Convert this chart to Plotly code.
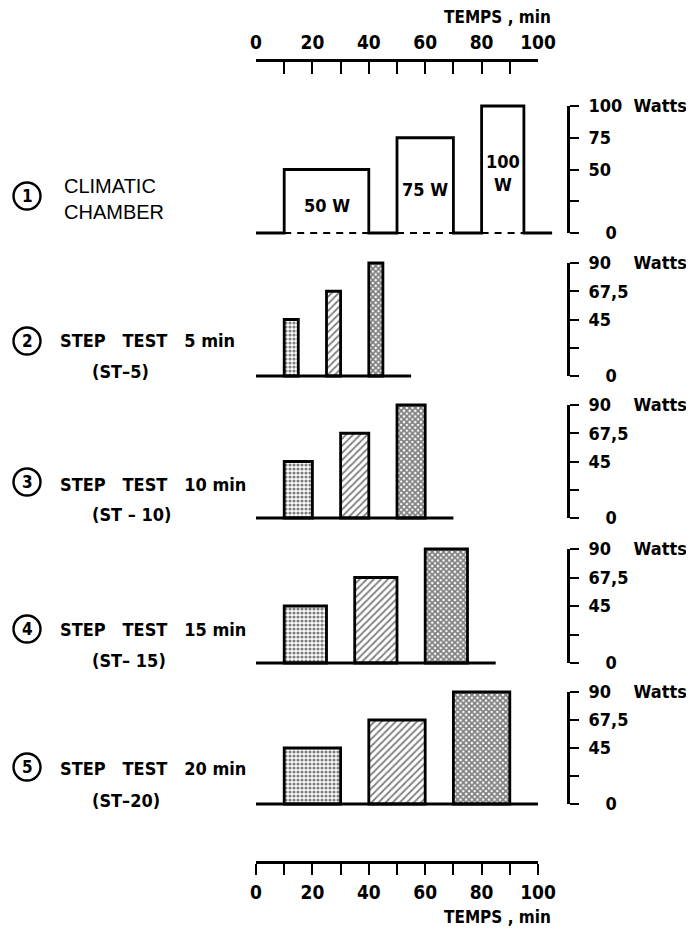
import plotly.graph_objects as go

# ---------------- data ----------------
time_tick_vals = [0, 10, 20, 30, 40, 50, 60, 70, 80, 90, 100]
time_tick_text = ["0", "", "20", "", "40", "", "60", "", "80", "", "100"]
time_title = "TEMPS , min"

chamber_start = [10, 50, 80]
chamber_end = [40, 70, 95]
chamber_power = [50, 75, 100]
chamber_labels = ["50 W", "75 W", "100<br>W"]
chamber_label_y = [22, 34, 47]
chamber_baseline_end = 105
chamber_ticks = [0, 25, 50, 75, 100]
chamber_ticktext = ["0", "", "50", "75", "100 Watts"]

step_names = ["STEP TEST 5 min", "STEP TEST 10 min", "STEP TEST 15 min", "STEP TEST 20 min"]
step_codes = ["(ST–5)", "(ST – 10)", "(ST– 15)", "(ST–20)"]
step_starts = [[10, 25, 40], [10, 30, 50], [10, 35, 60], [10, 40, 70]]
step_ends = [[15, 30, 45], [20, 40, 60], [25, 50, 75], [30, 60, 90]]
step_power = [45, 67.5, 90]
step_baseline_end = [55, 70, 85, 100]
step_ticks = [0, 22.5, 45, 67.5, 90]
step_ticktext = ["0", "", "45", "67,5", "90 Watts"]

panel_numbers = ["1", "2", "3", "4", "5"]

# ---------------- layout geometry (style) ----------------
OFF = 8                           # page body margin
W, H = 686, 922                   # figure size
X0, PXM = 256.0, 2.82            # screen pixel of t=0, pixels per minute
AXIS_X = 568                      # right (watts) axes
base_px = [233, 376, 518, 663, 804]
top_px = [106, 263, 405, 549, 692]
circle_cy = [196, 341, 482, 629, 767]
line1_cy = [189, 340, 484, 629, 768]
line2_cy = [209, 371, 514, 660, 800]
PAD = 14

FB = "DejaVu Sans Condensed, DejaVu Sans, sans-serif"
FR = "Liberation Sans, Arial, sans-serif"
LW = 2.8


def fx(px):
    return (px - OFF) / W


def fy(py):
    return 1 - (py - OFF) / H


fig = go.Figure()
layout = dict(
    width=W, height=H, margin=dict(l=0, r=0, t=0, b=0, pad=0, autoexpand=False),
    paper_bgcolor="white", plot_bgcolor="rgba(0,0,0,0)",
    showlegend=False, barmode="overlay",
)

layout["xaxis"] = dict(domain=[0, 1], range=[(OFF - X0) / PXM, (OFF + W - X0) / PXM],
                       visible=False, fixedrange=True, automargin=False)

common_x = dict(domain=[fx(X0), fx(X0 + 100 * PXM)], range=[0, 100],
                anchor="free", tickvals=time_tick_vals, ticktext=time_tick_text,
                showline=True, linecolor="black", linewidth=LW, tickcolor="black",
                tickwidth=2.4, showgrid=False, zeroline=False, automargin=False,
                tickfont=dict(family=FB, size=19, color="black", weight="bold"))
layout["xaxis2"] = dict(common_x, side="top", position=fy(60), ticks="inside",
                        ticklen=12, ticklabelstandoff=3)
layout["xaxis3"] = dict(common_x, side="bottom", position=fy(862), ticks="outside",
                        ticklen=11, ticklabelstandoff=1)

vmax_list = [100] + [90] * 4
ticks_list = [chamber_ticks] + [step_ticks] * 4
ticktext_list = [chamber_ticktext] + [step_ticktext] * 4


def fmt_tick(t):
    if t == "0":
        return "\u00a0\u00a0\u00a00"
    if " " in t:
        num, unit = t.split(" ", 1)
        return num + "\u00a0" * (2 + 2 * (3 - len(num))) + unit
    return t


for i in range(5):
    b, tp, vmax = base_px[i], top_px[i], vmax_list[i]
    s = (b - tp) / vmax
    # data axis (invisible, padded so thick lines are not clipped)
    layout[f"yaxis{i + 1}" if i else "yaxis"] = dict(
        domain=[fy(b + PAD), fy(tp - PAD)], range=[-PAD / s, vmax + PAD / s],
        anchor="x", visible=False, fixedrange=True, automargin=False)
    # tick (bracket) axis
    layout[f"yaxis{i + 6}"] = dict(
        domain=[fy(b), fy(tp)], range=[0, vmax], anchor="free", position=fx(AXIS_X),
        side="right", ticks="outside", ticklen=9, tickwidth=2.4, tickcolor="black",
        showline=True, linecolor="black", linewidth=LW, showgrid=False, zeroline=False,
        tickvals=ticks_list[i], ticktext=[fmt_tick(t) for t in ticktext_list[i]],
        ticklabelstandoff=6, automargin=False,
        tickfont=dict(family=FB, size=18, color="black", weight="bold"))
    fig.add_trace(go.Scatter(x=[0], y=[0], xaxis="x", yaxis=f"y{i + 6}", mode="markers",
                             marker=dict(opacity=0), hoverinfo="skip"))

fig.add_trace(go.Scatter(x=[0], y=[0], xaxis="x2", yaxis="y6", mode="markers",
                         marker=dict(opacity=0), hoverinfo="skip"))
fig.add_trace(go.Scatter(x=[0], y=[0], xaxis="x3", yaxis="y6", mode="markers",
                         marker=dict(opacity=0), hoverinfo="skip"))

# ---------------- panel 1 : climatic chamber ----------------
px_, py_ = [0], [0]
dx, dy = [], []
for s0, e0, p in zip(chamber_start, chamber_end, chamber_power):
    px_ += [s0, s0, e0, e0]
    py_ += [0, p, p, 0]
    dx += [s0, e0, None]
    dy += [0, 0, None]
px_.append(chamber_baseline_end)
py_.append(0)
fig.add_trace(go.Scatter(x=px_, y=py_, xaxis="x", yaxis="y", mode="lines",
                         line=dict(color="black", width=LW), hoverinfo="skip"))
fig.add_trace(go.Scatter(x=dx, y=dy, xaxis="x", yaxis="y", mode="lines",
                         line=dict(color="black", width=1.8, dash="7px,6px"),
                         hoverinfo="skip"))

annotations = []
for s0, e0, lab, ly in zip(chamber_start, chamber_end, chamber_labels, chamber_label_y):
    annotations.append(dict(x=(s0 + e0) / 2, y=ly, xref="x", yref="y", text=lab,
                            showarrow=False, font=dict(family=FB, size=18, color="black",
                                                       weight="bold"),
                            xanchor="center", yanchor="middle"))

# ---------------- panels 2-5 : step tests ----------------
shapes_pat = [".", "/", "x"]
sizes_pat = [4, 5, 4]
solid_pat = [0.5, 0.35, 0.7]
for k in range(4):
    ya = f"y{k + 2}"
    fig.add_trace(go.Scatter(x=[0, step_baseline_end[k]], y=[0, 0], xaxis="x", yaxis=ya,
                             mode="lines", line=dict(color="black", width=LW),
                             hoverinfo="skip"))
    centers = [(a + e) / 2 for a, e in zip(step_starts[k], step_ends[k])]
    widths = [e - a for a, e in zip(step_starts[k], step_ends[k])]
    fig.add_trace(go.Bar(x=centers, y=step_power, width=widths, base=0,
                         xaxis="x", yaxis=ya,
                         marker=dict(color="white",
                                     line=dict(color="black", width=LW),
                                     pattern=dict(shape=shapes_pat, size=sizes_pat,
                                                  solidity=solid_pat, fgcolor="black",
                                                  bgcolor="white", fillmode="overlay")),
                         hoverinfo="skip"))

# ---------------- left labels ----------------
shapes = []
for i in range(5):
    shapes.append(dict(type="circle", xref="paper", yref="paper",
                       xsizemode="pixel", ysizemode="pixel",
                       xanchor=fx(27), yanchor=fy(circle_cy[i]),
                       x0=-13.5, x1=13.5, y0=-13.5, y1=13.5,
                       line=dict(color="black", width=2.4)))
    annotations.append(dict(x=fx(27), y=fy(circle_cy[i]), xref="paper", yref="paper",
                            text=panel_numbers[i], showarrow=False,
                            font=dict(family=FB, size=17, color="black", weight="bold"),
                            xanchor="center", yanchor="middle"))

annotations.append(dict(x=fx(62), y=fy((line1_cy[0] + line2_cy[0]) / 2), xref="paper",
                        yref="paper", text="CLIMATIC<br>CHAMBER", showarrow=False,
                        xanchor="left", yanchor="middle", align="left",
                        font=dict(family=FR, size=20, color="black")))
for k in range(4):
    annotations.append(dict(x=fx(58), y=fy(line1_cy[k + 1]), xref="paper", yref="paper",
                            text=step_names[k].replace("STEP TEST", "STEP\u00a0\u00a0 TEST\u00a0\u00a0"),
                            showarrow=False, xanchor="left", yanchor="middle",
                            font=dict(family=FB, size=18, color="black", weight="bold")))
    annotations.append(dict(x=fx(90), y=fy(line2_cy[k + 1]), xref="paper", yref="paper",
                            text=step_codes[k], showarrow=False, xanchor="left",
                            yanchor="middle",
                            font=dict(family=FB, size=18, color="black", weight="bold")))

for yy in (17, 917):
    annotations.append(dict(x=fx(553), y=fy(yy), xref="paper", yref="paper",
                            text=time_title, showarrow=False, xanchor="right",
                            yanchor="middle",
                            font=dict(family=FB, size=17, color="black", weight="bold")))

layout["annotations"] = annotations
layout["shapes"] = shapes
fig.update_layout(**layout)
fig.write_html("out.html")
